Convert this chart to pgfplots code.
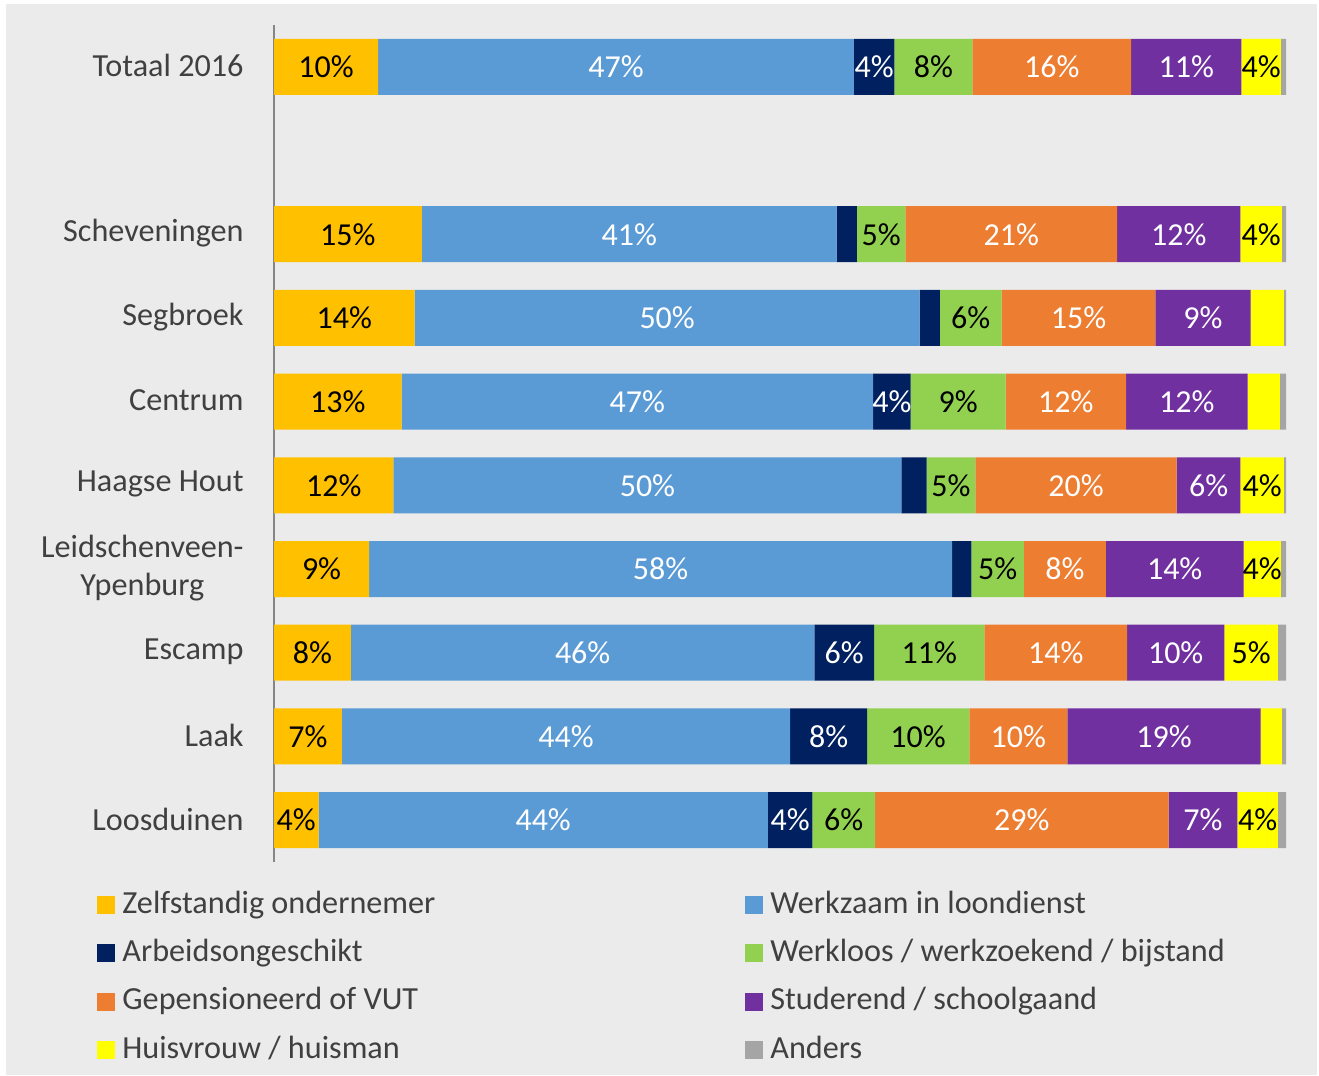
\documentclass[border=0pt]{standalone}
\usepackage{pgfplots}
\pgfplotsset{compat=1.18}
\usepackage{pgfplotstable}
\usepackage{fontspec}
\setmainfont{Carlito}
\definecolor{cZ}{HTML}{FFC000}
\definecolor{cW}{HTML}{5B9BD5}
\definecolor{cA}{HTML}{002060}
\definecolor{cWl}{HTML}{92D050}
\definecolor{cG}{HTML}{ED7D31}
\definecolor{cS}{HTML}{7030A0}
\definecolor{cH}{HTML}{FFFF00}
\definecolor{cAn}{HTML}{A5A5A5}
\definecolor{bg}{HTML}{EBEBEB}
\definecolor{txt}{HTML}{404040}
\definecolor{axgray}{HTML}{868686}

\pgfplotstableread{
y Z W A Wl G S H An
9 10.3 47.0 4.0 7.7 15.7 10.9 3.9 0.5
7 14.6 41.0 2.0 4.8 20.9 12.2 4.1 0.4
6 13.9 49.9 2.0 6.1 15.2 9.4 3.3 0.2
5 12.6 46.6 3.7 9.4 11.9 12.0 3.2 0.6
4 11.8 50.2 2.5 4.8 19.9 6.3 4.3 0.2
3 9.4 57.6 1.9 5.2 8.1 13.6 3.7 0.5
2 7.6 45.8 5.9 10.9 14.1 9.6 5.3 0.8
1 6.7 44.3 7.6 10.1 9.7 19.1 2.1 0.4
0 4.4 44.4 4.4 6.2 29.0 6.8 4.0 0.8
}\data

\begin{document}
\begin{tikzpicture}[font=\fontsize{16bp}{19bp}\selectfont]
\useasboundingbox (0,0) rectangle (659.5bp,538bp);
\fill[white] (0,0) rectangle (659.5bp,538bp);
\fill[bg] (3bp,0.5bp) rectangle (658.5bp,536bp);
\begin{axis}[
  at={(137bp,107bp)}, anchor=south west,
  width=506bp, height=418.5bp, scale only axis,
  xbar stacked, bar width=28bp,
  xmin=0, xmax=100, ymin=-0.5, ymax=9.5,
  clip=false,
  axis x line=none, axis y line*=left,
  y axis line style={draw=axgray, line width=0.75bp, -},
  ytick={0,1,2,3,4,5,6,7,9},
  yticklabels={Loosduinen,Laak,Escamp,{Leidschenveen-\\Ypenburg},Haagse Hout,Centrum,Segbroek,Scheveningen,Totaal 2016},
  major tick length=0pt,
  yticklabel style={align=center, text=txt, font=\fontsize{16.1bp}{18.8bp}\selectfont, inner sep=0pt, xshift=-15bp, yshift=0.5bp},
  visualization depends on=rawx \as \rawx,
  nodes near coords={\ifdim\rawx pt<3.5pt\relax\else\pgfmathprintnumber[fixed,precision=0,assume math mode=true]{\rawx}\%\fi},
  every node near coord/.append style={anchor=center, text=black, inner sep=0pt, font=\fontsize{16bp}{19bp}\selectfont},
  every axis plot/.append style={draw=none, legend image code/.code={\fill[##1] (0bp,-4.5bp) rectangle (9bp,4.5bp);}},
  legend columns=2,
  legend cell align=left,
  legend style={at={(-0.1749,-0.0275)}, anchor=north west, draw=none, fill=none, inner sep=0pt, outer sep=0pt, row sep=4.2bp, column sep=0pt, text=txt, font=\fontsize{16.1bp}{19bp}\selectfont, nodes={inner xsep=3.7bp, inner ysep=2bp, text height=12bp, text depth=4bp, anchor=west}},
]
\addplot[fill=cZ] table[x=Z,y=y]{\data};
\addlegendentry{\makebox[307.6bp][l]{Zelfstandig ondernemer}}
\addplot[fill=cW, every node near coord/.append style={text=white}] table[x=W,y=y]{\data};
\addlegendentry{Werkzaam in loondienst}
\addplot[fill=cA, every node near coord/.append style={text=white}] table[x=A,y=y]{\data};
\addlegendentry{\makebox[307.6bp][l]{Arbeidsongeschikt}}
\addplot[fill=cWl] table[x=Wl,y=y]{\data};
\addlegendentry{Werkloos / werkzoekend / bijstand}
\addplot[fill=cG, every node near coord/.append style={text=white}] table[x=G,y=y]{\data};
\addlegendentry{\makebox[307.6bp][l]{Gepensioneerd of VUT}}
\addplot[fill=cS, every node near coord/.append style={text=white}] table[x=S,y=y]{\data};
\addlegendentry{Studerend / schoolgaand}
\addplot[fill=cH] table[x=H,y=y]{\data};
\addlegendentry{\makebox[307.6bp][l]{Huisvrouw / huisman}}
\addplot[fill=cAn] table[x=An,y=y]{\data};
\addlegendentry{Anders}
\end{axis}
\end{tikzpicture}
\end{document}
